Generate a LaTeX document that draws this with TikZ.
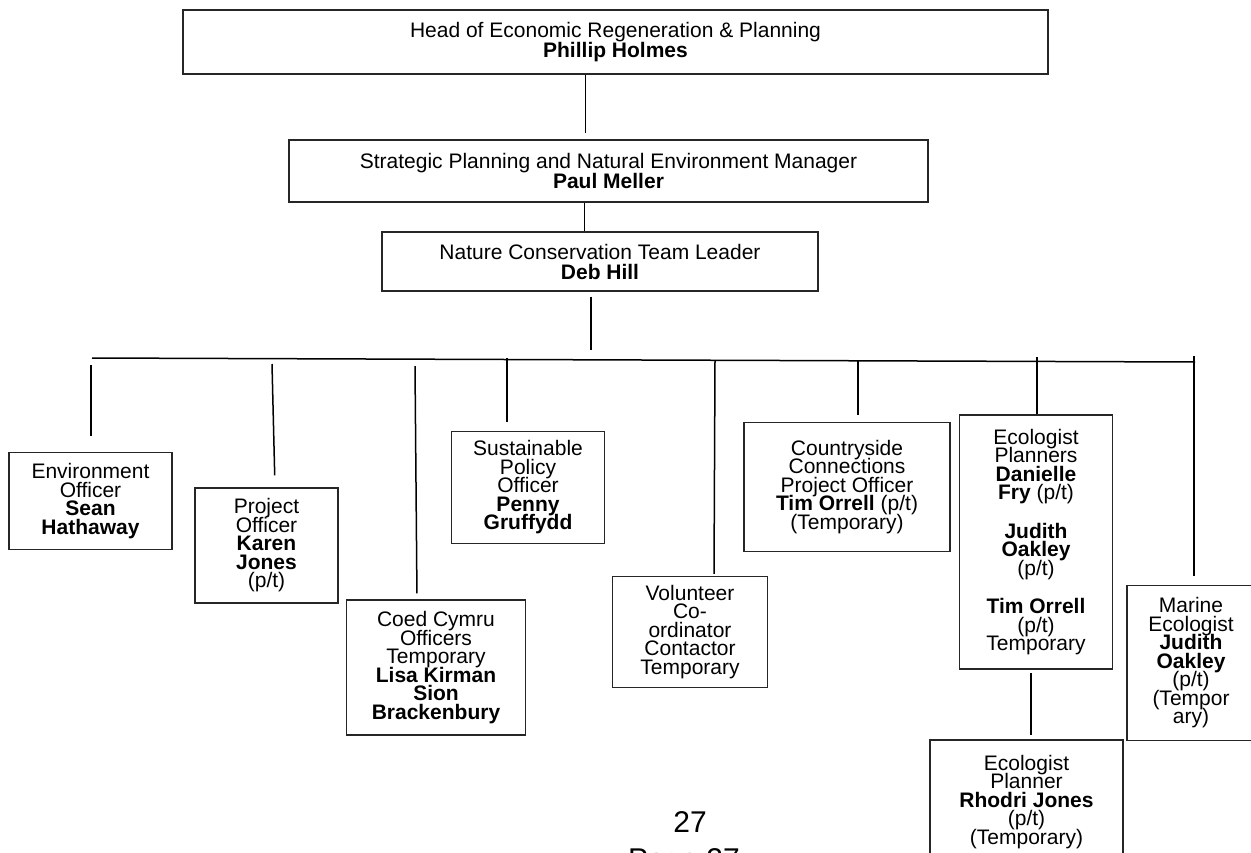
\documentclass[tikz,border=0pt]{standalone}
\usepackage{fontspec}
\setmainfont{Liberation Sans}
\usetikzlibrary{calc}
\newcommand\myboxfont{\fontsize{21}{18.5}\selectfont\lineskiplimit=-40pt\relax\lineskip=0pt\relax}
\newcommand\mytopfont{\fontsize{21}{20}\selectfont\lineskiplimit=-40pt\relax\lineskip=0pt\relax}
\tikzset{
  box/.style={draw=black!85, line width=1.2pt, fill=white, align=center, inner sep=0pt,
    font=\myboxfont},
  topbox/.style={box, font=\mytopfont},
  conn/.style={draw=black, line width=1.5pt},
  pagenum/.style={font=\fontsize{30}{30}\selectfont, inner sep=0pt}
}
\begin{document}
\begin{tikzpicture}[x=1pt,y=-1pt]
\useasboundingbox (0,0) rectangle (1251,852);
\clip (0,0) rectangle (1251,852);
% top chain
\node[topbox, minimum width=865pt, minimum height=64pt] (head) at (615.5,42) {Head of Economic Regeneration \& Planning\\\textbf{Phillip Holmes}};
\node[topbox, minimum width=639pt, minimum height=62pt] (strat) at (608.5,171) {Strategic Planning and Natural Environment Manager\\\textbf{Paul Meller}};
\node[topbox, minimum width=436pt, minimum height=59pt] (nat) at (600,261.5) {Nature Conservation Team Leader\\\textbf{Deb Hill}};
% staff boxes
\node[box, minimum width=163pt, minimum height=97pt] (env) at (90.5,501) {Environment\\Officer\\\textbf{Sean}\\\textbf{Hathaway}};
\node[box, minimum width=143pt, minimum height=115pt] (proj) at (266.5,545.5) {Project\\Officer\\\textbf{Karen}\\\textbf{Jones}\\(p/t)};
\node[box, minimum width=179pt, minimum height=135pt] (coed) at (436,667.5) {Coed Cymru\\Officers\\Temporary\\\textbf{Lisa Kirman}\\\textbf{Sion}\\\textbf{Brackenbury}};
\node[box, minimum width=153pt, minimum height=112pt] (sust) at (528,487.5) {Sustainable\\Policy\\Officer\\\textbf{Penny}\\\textbf{Gruffydd}};
\node[box, minimum width=155pt, minimum height=111pt] (vol) at (690,632) {Volunteer\\Co-\\ordinator\\Contactor\\Temporary};
\node[box, minimum width=206pt, minimum height=129pt] (country) at (847,487) {Countryside\\Connections\\Project Officer\\\textbf{Tim Orrell} (p/t)\\(Temporary)};
\node[box, minimum width=153pt, minimum height=254pt] (ecop) at (1036,542) {Ecologist\\Planners\\\textbf{Danielle}\\\textbf{Fry} (p/t)\\[20pt]\textbf{Judith}\\\textbf{Oakley}\\(p/t)\\[20pt]\textbf{Tim Orrell}\\(p/t)\\Temporary};
\node[box, minimum width=128pt, minimum height=155pt] (marine) at (1191,663) {Marine\\Ecologist\\\textbf{Judith}\\\textbf{Oakley}\\(p/t)\\(Tempor\\ary)};
\node[box, minimum width=193pt, minimum height=124pt] (rhodri) at (1026.5,802) {Ecologist\\Planner\\\textbf{Rhodri Jones}\\(p/t)\\(Temporary)};
% page number
\node[pagenum, anchor=base] (pg) at (690,832) {27};
\node[pagenum, anchor=base] (pgb) at (684,869) {Page 27};
% connectors
\coordinate (c1) at (585.5,133);
\coordinate (c2) at (584.5,0);
\draw[conn] (head.south -| c1) -- (c1);
\draw[conn] (strat.south -| c2) -- (nat.north -| c2);
\coordinate (busL) at (92,358);
\coordinate (busR) at (1195,362);
\coordinate (busC) at (591,350);
\draw[conn] ($(nat.south -| busC)+(0,5)$) -- (busC);
\draw[conn] (busL) -- (busR);
\coordinate (tEnv) at (91,365);
\coordinate (tProj) at (272,364);
\coordinate (tCoed) at (415,366);
\coordinate (tSust) at (507,358);
\coordinate (tVol) at (715,361);
\coordinate (tCountry) at (858,360);
\coordinate (tEcop) at (1037,357);
\coordinate (tMarine) at (1194,356);
\draw[conn, shorten >=16pt] (tEnv) -- (env.north -| tEnv);
\draw[conn, shorten >=12pt] (tProj) -- ($(proj.north -| tProj)+(3,0)$);
\draw[conn, shorten >=6pt] (tCoed) -- ($(coed.north -| tCoed)+(2,0)$);
\draw[conn, shorten >=9pt] (tSust) -- (sust.north -| tSust);
\draw[conn, shorten >=2pt] (tVol) -- ($(vol.north -| tVol)+(-1,0)$);
\draw[conn, shorten >=7pt] (tCountry) -- (country.north -| tCountry);
\draw[conn] (tEcop) -- (ecop.north -| tEcop);
\draw[conn, shorten >=9pt] (tMarine) -- (marine.north -| tMarine);
\coordinate (cR) at (1031,673);
\draw[conn, shorten >=4pt] (cR) -- (rhodri.north -| cR);
\end{tikzpicture}
\end{document}
